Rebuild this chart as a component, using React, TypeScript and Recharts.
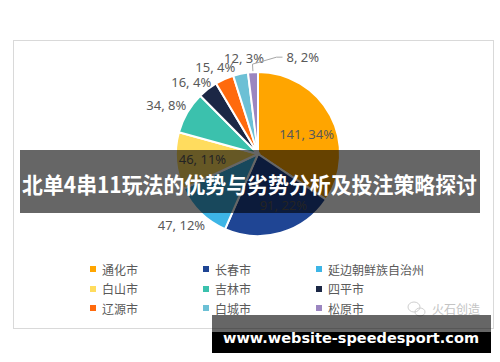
import React from "react";
import { PieChart, Pie, Cell, Legend } from "recharts";

const cities = [
  "通化市",
  "长春市",
  "延边朝鲜族自治州",
  "白山市",
  "吉林市",
  "四平市",
  "辽源市",
  "白城市",
  "松原市",
];
const counts = [141, 91, 47, 46, 34, 16, 15, 12, 8];
const pctLabels = [34, 22, 12, 11, 8, 4, 4, 3, 2];
const colors = [
  "#ffa500",
  "#1f4594",
  "#3db5e6",
  "#ffdc5e",
  "#3bc1ad",
  "#1b2745",
  "#ff6a0d",
  "#6cc0d5",
  "#9b86c0",
];

const title = "北单4串11玩法的优势与劣势分析及投注策略探讨";
const siteUrl = "www.website-speedesport.com";
const watermark = "火石创造";

const data = cities.map((name, i) => ({ name, value: counts[i] }));

// label placement as a share of the radius, plus a small angle nudge
const labelRadius = [0.64, 0.7, 1.27, 0.68, 1.27, 1.2, 1.18, 1.18, 1];
const labelNudge = [-6, 10, -3, 0, 2, 5, 2, -4, 0];

const RAD = Math.PI / 180;
const labelFont = '"Noto Sans", "Noto Sans CJK SC", sans-serif';

const renderLabel = (props: any) => {
  const { cx, cy, midAngle, outerRadius, index } = props;
  const text = `${counts[index]}, ${pctLabels[index]}%`;
  if (index === counts.length - 1) {
    const a = -midAngle * RAD;
    const x1 = cx + (outerRadius + 1) * Math.cos(a);
    const y1 = cy + (outerRadius + 1) * Math.sin(a);
    const x2 = cx + (outerRadius + 8) * Math.cos(a);
    const y2 = cy + (outerRadius + 8) * Math.sin(a);
    const x3 = x2 + 24;
    const y3 = y2 - 7;
    const x4 = x3 + 6;
    return (
      <g>
        <polyline
          points={`${x1},${y1} ${x2},${y2} ${x3},${y3} ${x4},${y3}`}
          fill="none"
          stroke="#a6a6a6"
          strokeWidth={1}
        />
        <text
          x={x4 + 4}
          y={y3}
          fill="#595959"
          fontSize={13}
          fontFamily={labelFont}
          dominantBaseline="central"
          textAnchor="start"
        >
          {text}
        </text>
      </g>
    );
  }
  const r = outerRadius * labelRadius[index];
  const a = -(midAngle + labelNudge[index]) * RAD;
  const x = cx + r * Math.cos(a);
  const y = cy + r * Math.sin(a);
  return (
    <text
      x={x}
      y={y}
      fill="#595959"
      fontSize={13}
      fontFamily={labelFont}
      textAnchor="middle"
      dominantBaseline="central"
    >
      {text}
    </text>
  );
};

const renderLegend = () => (
  <div style={{ position: "relative", width: 500, height: 60 }}>
    {cities.map((name, i) => {
      const col = i % 3;
      const row = Math.floor(i / 3);
      return (
        <div
          key={name}
          style={{
            position: "absolute",
            left: 90 + col * 113,
            top: row * 19.5,
            height: 18,
            display: "flex",
            alignItems: "center",
            fontSize: 12,
            color: "#595959",
            fontFamily: '"Noto Sans CJK SC", sans-serif',
            whiteSpace: "nowrap",
          }}
        >
          <span
            style={{
              width: 6,
              height: 6,
              background: colors[i],
              marginRight: 6,
              display: "inline-block",
            }}
          />
          {name}
        </div>
      );
    })}
  </div>
);

export default function App() {
  return (
    <div
      style={{
        position: "absolute",
        left: 0,
        top: 0,
        width: 500,
        height: 362,
        background: "#fff",
        overflow: "hidden",
      }}
    >
      <div
        style={{
          position: "absolute",
          left: 13,
          top: 40,
          width: 481,
          height: 289,
          boxSizing: "border-box",
          border: "1px solid #d9d9d9",
        }}
      />
      <div style={{ position: "absolute", left: 0, top: 0 }}>
        <PieChart width={500} height={362}>
          <Pie
            data={data}
            dataKey="value"
            nameKey="name"
            cx={253}
            cy={149}
            outerRadius={82}
            startAngle={90}
            endAngle={-270}
            stroke="#fff"
            strokeWidth={2}
            label={renderLabel}
            labelLine={false}
            isAnimationActive={false}
          >
            {data.map((d, i) => (
              <Cell key={d.name} fill={colors[i]} />
            ))}
          </Pie>
          <Legend
            content={renderLegend}
            wrapperStyle={{ position: "absolute", left: 0, top: 260, width: 500 }}
          />
        </PieChart>
      </div>
      <svg
        width={500}
        height={362}
        style={{ position: "absolute", left: 0, top: 0, pointerEvents: "none" }}
      >
        <g transform="translate(408,302)" fill="none" stroke="#cfcfcf" strokeWidth={1}>
          <ellipse cx={6} cy={5} rx={6} ry={5} />
          <ellipse cx={12} cy={10} rx={5} ry={4} />
        </g>
        <text
          x={432}
          y={308}
          fill="#c4c4c4"
          fontSize={12}
          fontFamily='"Noto Sans CJK SC", sans-serif'
          dominantBaseline="central"
        >
          {watermark}
        </text>
        <rect x={20} y={150} width={460} height={63} fill="rgba(0,0,0,0.6)" />
        <text
          x={22}
          y={183}
          fill="#fff"
          fontSize={22}
          fontWeight="bold"
          fontFamily='"Noto Sans CJK SC", sans-serif'
          dominantBaseline="central"
          textLength={455}
          lengthAdjust="spacingAndGlyphs"
        >
          {title}
        </text>
        <rect x={212} y={315} width={279} height={17} fill="rgba(0,0,0,0.6)" />
        <rect x={212} y={332} width={279} height={21} fill="#000" />
        <text
          x={223}
          y={343}
          fill="#fff"
          fontSize={14}
          fontWeight="bold"
          fontFamily='"DejaVu Sans", sans-serif'
          textLength={256}
          lengthAdjust="spacingAndGlyphs"
        >
          {siteUrl}
        </text>
      </svg>
    </div>
  );
}
